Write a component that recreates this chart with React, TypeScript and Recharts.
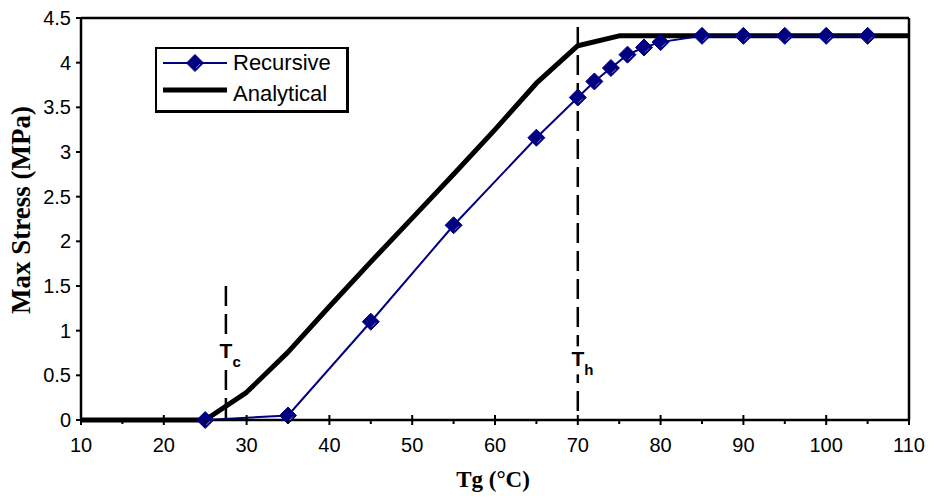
import {
  Legend,
  Line,
  LineChart,
  ReferenceDot,
  ReferenceLine,
  XAxis,
  YAxis,
} from "recharts";

// Recursive model: Tg (°C) vs max stress (MPa)
const recursiveTg = [25, 35, 45, 55, 65, 70, 72, 74, 76, 78, 80, 85, 90, 95, 100, 105];
const recursiveStress = [0, 0.05, 1.1, 2.18, 3.16, 3.61, 3.79, 3.94, 4.09, 4.17, 4.23, 4.3, 4.3, 4.3, 4.3, 4.3];

// Analytical solution
const analyticalTg = [10, 25, 30, 35, 40, 45, 50, 55, 60, 65, 70, 75, 110];
const analyticalStress = [0, 0, 0.31, 0.76, 1.27, 1.77, 2.26, 2.75, 3.25, 3.77, 4.19, 4.3, 4.3];

const xTicks = [10, 15, 20, 25, 30, 35, 40, 45, 50, 55, 60, 65, 70, 75, 80, 85, 90, 95, 100, 105, 110];
const yTicks = [0, 0.5, 1, 1.5, 2, 2.5, 3, 3.5, 4, 4.5];

// T_c and T_h markers: temperature, top of the dashed line, label height
const tcMarker = { tg: 27.5, top: 1.5, labelAt: 0.78 };
const thMarker = { tg: 70, top: 4.4, labelAt: 0.69 };

const recursiveData = recursiveTg.map((tg, i) => ({ tg, stress: recursiveStress[i] }));
const analyticalData = analyticalTg.map((tg, i) => ({ tg, stress: analyticalStress[i] }));

const SANS = "'Liberation Sans', Arial, sans-serif";
const SERIF = "'Liberation Serif', 'Times New Roman', serif";
const NAVY = "#000080";

function Diamond({ cx, cy }: { cx: number; cy: number }) {
  const r = 8.5;
  return (
    <g>
      <polygon
        points={`${cx},${cy - r} ${cx + r},${cy} ${cx},${cy + r} ${cx - r},${cy}`}
        fill={NAVY}
        stroke={NAVY}
        strokeWidth={1}
      />
      <line x1={cx + 1} y1={cy + 5} x2={cx + 5} y2={cy + 1} stroke="#9090d0" strokeWidth={0.8} />
    </g>
  );
}

const renderDot = (props: any) => <Diamond key={`d-${props.index}`} cx={props.cx} cy={props.cy} />;

function XTick(props: any) {
  const { x, y, payload } = props;
  const major = payload.value % 10 === 0;
  const axisY = y - 18;
  return (
    <g>
      <line
        x1={x}
        x2={x}
        y1={major ? axisY - 5 : axisY}
        y2={major ? axisY + 5 : axisY + 4}
        stroke="#000"
        strokeWidth={2}
      />
      {major && (
        <text x={x} y={y} dy="0.71em" textAnchor="middle" fontSize={20} fontFamily={SANS} fill="#000">
          {payload.value}
        </text>
      )}
    </g>
  );
}

function XTitle({ viewBox }: any) {
  return (
    <text
      x={viewBox.x + viewBox.width / 2 - 2}
      y={viewBox.y + 67}
      textAnchor="middle"
      fontSize={23}
      fontWeight="bold"
      fontFamily={SERIF}
      fill="#000"
    >
      Tg (°C)
    </text>
  );
}

function YTitle({ viewBox }: any) {
  const x = viewBox.x + 28.5;
  const y = viewBox.y + viewBox.height / 2 - 9;
  return (
    <text
      x={x}
      y={y}
      transform={`rotate(-90, ${x}, ${y})`}
      textAnchor="middle"
      fontSize={27}
      fontWeight="bold"
      fontFamily={SERIF}
      fill="#000"
    >
      Max Stress (MPa)
    </text>
  );
}

function PhaseLabel({ viewBox, sub }: any) {
  const cx = viewBox.x + viewBox.width / 2;
  const cy = viewBox.y + viewBox.height / 2;
  return (
    <g>
      <rect x={cx - 9} y={cy - 12} width={18} height={28} fill="#fff" />
      <text x={cx} y={cy + 8} textAnchor="middle" fontSize={21} fontWeight="bold" fontFamily={SANS} fill="#000">
        T
      </text>
      <text x={cx + 6.5} y={cy + 16.5} fontSize={15} fontWeight="bold" fontFamily={SANS} fill="#000">
        {sub}
      </text>
    </g>
  );
}

function LegendBox() {
  const text = { position: "absolute" as const, left: 76, fontSize: 22, lineHeight: "22px", fontFamily: SANS, color: "#000" };
  return (
    <div
      style={{
        position: "relative",
        boxSizing: "border-box",
        width: 194,
        height: 66,
        background: "#fff",
        borderTop: "2px solid #000",
        borderLeft: "2px solid #000",
        borderRight: "3px solid #000",
        borderBottom: "3px solid #000",
      }}
    >
      <svg width={66} height={20} style={{ position: "absolute", left: 6, top: 4 }}>
        <line x1={0} y1={10} x2={64} y2={10} stroke={NAVY} strokeWidth={2} />
        <Diamond cx={32} cy={10} />
      </svg>
      <span style={{ ...text, top: 3 }}>Recursive</span>
      <svg width={66} height={20} style={{ position: "absolute", left: 6, top: 30.5 }}>
        <line x1={0} y1={10} x2={64} y2={10} stroke="#000" strokeWidth={5} />
      </svg>
      <span style={{ ...text, top: 34 }}>Analytical</span>
    </div>
  );
}

export default function App() {
  return (
    <div style={{ position: "absolute", left: 0, top: 0, background: "#fff" }}>
      <LineChart width={935} height={499} margin={{ top: 18, right: 26, bottom: 0, left: 1 }}>
        <XAxis
          type="number"
          dataKey="tg"
          domain={[10, 110]}
          ticks={xTicks}
          interval={0}
          height={79}
          tickSize={0}
          tickMargin={18}
          tickLine={false}
          tick={<XTick />}
          axisLine={{ stroke: "#000", strokeWidth: 2.5 }}
          allowDuplicatedCategory={false}
          label={{ content: <XTitle /> }}
        />
        <YAxis
          type="number"
          domain={[0, 4.5]}
          ticks={yTicks}
          interval={0}
          width={80}
          tickSize={5}
          tickMargin={5}
          tick={{ fill: "#000", fontSize: 20, fontFamily: SANS }}
          tickLine={{ stroke: "#000", strokeWidth: 2 }}
          axisLine={{ stroke: "#000", strokeWidth: 2.5 }}
          label={{ content: <YTitle /> }}
        />
        <ReferenceLine y={4.5} stroke="#000" strokeWidth={2.5} />
        <ReferenceLine x={110} stroke="#000" strokeWidth={2.5} />
        <ReferenceLine
          segment={[
            { x: tcMarker.tg, y: tcMarker.top },
            { x: tcMarker.tg, y: 0 },
          ]}
          stroke="#000"
          strokeWidth={2.5}
          strokeDasharray="20 8"
        />
        <ReferenceLine
          segment={[
            { x: thMarker.tg, y: thMarker.top },
            { x: thMarker.tg, y: 0 },
          ]}
          stroke="#000"
          strokeWidth={2.5}
          strokeDasharray="20 8"
        />
        <Line
          data={analyticalData}
          dataKey="stress"
          name="Analytical"
          stroke="#000"
          strokeWidth={5}
          strokeLinejoin="round"
          dot={false}
          activeDot={false}
          isAnimationActive={false}
        />
        <Line
          data={recursiveData}
          dataKey="stress"
          name="Recursive"
          stroke={NAVY}
          strokeWidth={2}
          dot={renderDot}
          activeDot={false}
          isAnimationActive={false}
        />
        <ReferenceDot
          x={tcMarker.tg}
          y={tcMarker.labelAt}
          r={0}
          fill="none"
          stroke="none"
          label={<PhaseLabel sub="c" />}
        />
        <ReferenceDot
          x={thMarker.tg}
          y={thMarker.labelAt}
          r={0}
          fill="none"
          stroke="none"
          label={<PhaseLabel sub="h" />}
        />
        <Legend
          layout="horizontal"
          verticalAlign="middle"
          align="center"
          wrapperStyle={{ position: "absolute", left: 155, top: 47, width: "auto", height: "auto" }}
          content={<LegendBox />}
        />
      </LineChart>
    </div>
  );
}
